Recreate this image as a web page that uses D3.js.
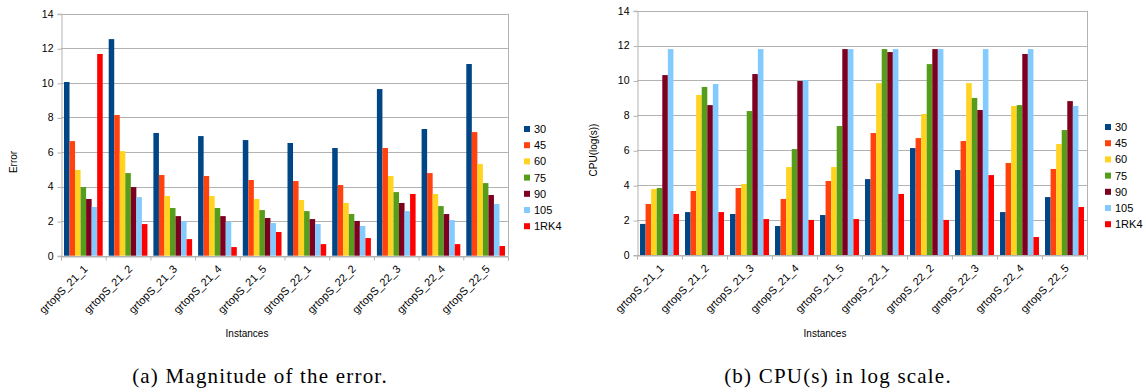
<!DOCTYPE html>
<html>
<head>
<meta charset="utf-8">
<script src="https://cdn.jsdelivr.net/npm/d3@7"></script>
<style>
    body { margin: 0; background: #fff; }
    svg { display: block; }
    .tick text { font-family: 'Liberation Sans', Arial, sans-serif; font-size: 10.5px; fill: #000; }
    .x-labels .tick text { font-size: 11px; }
    .axis-label { font-family: 'Liberation Sans', Arial, sans-serif; font-size: 10px; fill: #000; }
    .legend text { font-family: 'Liberation Sans', Arial, sans-serif; font-size: 11px; fill: #000; }
    .caption { font-family: 'Liberation Serif', 'DejaVu Serif', serif; font-size: 21px; letter-spacing: 1.2px; fill: #000; }
    .grid-line { stroke: #b3b3b3; stroke-width: 1; }
</style>
</head>
<body>
<div id="charts"></div>
<script>
const categories = ['grtopS_21_1', 'grtopS_21_2', 'grtopS_21_3', 'grtopS_21_4', 'grtopS_21_5',
    'grtopS_22_1', 'grtopS_22_2', 'grtopS_22_3', 'grtopS_22_4', 'grtopS_22_5'];

const seriesNames = ['30', '45', '60', '75', '90', '105', '1RK4'];

const seriesColors = ['#004586', '#ff420e', '#ffd320', '#579d1c', '#7e0021', '#83caff', '#ff0000'];

const yTicks = [0, 2, 4, 6, 8, 10, 12, 14];

// error per instance, one value per series
const errorData = [
    [10.05, 6.63, 4.96, 3.97, 3.28, 2.82, 11.67],
    [12.53, 8.14, 6.05, 4.78, 3.97, 3.39, 1.83],
    [7.10, 4.67, 3.45, 2.76, 2.29, 2.01, 0.96],
    [6.92, 4.61, 3.45, 2.76, 2.29, 1.95, 0.50],
    [6.69, 4.38, 3.28, 2.64, 2.18, 1.89, 1.37],
    [6.52, 4.32, 3.22, 2.58, 2.12, 1.83, 0.67],
    [6.23, 4.09, 3.05, 2.41, 2.01, 1.72, 1.02],
    [9.64, 6.23, 4.61, 3.68, 3.05, 2.58, 3.57],
    [7.33, 4.78, 3.57, 2.87, 2.41, 2.06, 0.67],
    [11.09, 7.15, 5.30, 4.20, 3.51, 2.99, 0.56]
];

// CPU(log(s)) per instance, one value per series
const cpuData = [
    [1.78, 2.92, 3.78, 3.84, 10.31, 11.80, 2.35],
    [2.46, 3.67, 9.17, 9.63, 8.59, 9.80, 2.46],
    [2.35, 3.84, 4.07, 8.25, 10.37, 11.80, 2.06],
    [1.66, 3.21, 5.04, 6.07, 9.97, 10.03, 2.01],
    [2.29, 4.24, 5.04, 7.39, 11.80, 11.80, 2.06],
    [4.35, 6.99, 9.85, 11.80, 11.63, 11.80, 3.50],
    [6.13, 6.70, 8.08, 10.94, 11.80, 11.80, 2.01],
    [4.87, 6.53, 9.85, 9.00, 8.31, 11.80, 4.58],
    [2.46, 5.27, 8.54, 8.59, 11.52, 11.80, 1.03],
    [3.32, 4.93, 6.36, 7.16, 8.82, 8.54, 2.75]
];

const width = 1146;
const height = 392;

const svg = d3.select('#charts')
    .append('svg')
    .attr('width', width)
    .attr('height', height);

function drawChart(cfg) {
    const g = svg.append('g');

    //scales
    const xScale = d3.scaleBand()
        .domain(categories)
        .range([cfg.left, cfg.right])
        .paddingInner(0.134)
        .paddingOuter(0.067);

    const xSeries = d3.scaleBand()
        .domain(seriesNames)
        .range([0, xScale.bandwidth()]);

    // group boundaries for tick marks
    const xEdges = d3.scaleLinear()
        .domain([0, categories.length])
        .range([cfg.left, cfg.right]);

    const yScale = d3.scaleLinear()
        .domain([0, 14])
        .range([cfg.bottom, cfg.top]);

    //grid lines
    g.append('g')
        .selectAll('line')
        .data(yTicks)
        .enter()
        .append('line')
        .classed('grid-line', true)
        .attr('x1', cfg.left)
        .attr('x2', cfg.right)
        .attr('y1', d => Math.round(yScale(d)) + 0.5)
        .attr('y2', d => Math.round(yScale(d)) + 0.5);

    // right border
    g.append('line')
        .classed('grid-line', true)
        .attr('x1', Math.round(cfg.right) + 0.5)
        .attr('x2', Math.round(cfg.right) + 0.5)
        .attr('y1', yScale(14))
        .attr('y2', yScale(0));

    //bars
    g.append('g')
        .selectAll('g')
        .data(cfg.data)
        .enter()
        .append('g')
        .attr('transform', (d, i) => 'translate(' + xScale(categories[i]) + ',0)')
        .selectAll('rect')
        .data(d => d)
        .enter()
        .append('rect')
        .attr('x', (d, j) => xSeries(seriesNames[j]))
        .attr('width', xSeries.bandwidth())
        .attr('y', d => yScale(d))
        .attr('height', d => yScale(0) - yScale(d))
        .attr('fill', (d, j) => seriesColors[j]);

    //y-axis
    const yAxis = d3.axisLeft(yScale)
        .tickValues(yTicks)
        .tickSize(4)
        .tickPadding(4);

    const yAx = g.append('g')
        .attr('transform', 'translate(' + (Math.round(cfg.left) + 0.5) + ',0)')
        .call(yAxis);
    yAx.selectAll('path, line').attr('stroke', '#b3b3b3');
    yAx.selectAll('.tick line').attr('transform', 'translate(0,0.5)');

    //x-axis tick marks
    const xAxisEdges = d3.axisBottom(xEdges)
        .ticks(categories.length)
        .tickFormat('')
        .tickSize(4);

    const xAx = g.append('g')
        .attr('transform', 'translate(0,' + (Math.round(cfg.bottom) + 0.5) + ')')
        .call(xAxisEdges);
    xAx.selectAll('path, line').attr('stroke', '#b3b3b3');

    //x-axis labels
    const xAxis = d3.axisBottom(xScale).tickSize(0);
    const xLab = g.append('g')
        .classed('x-labels', true)
        .attr('transform', 'translate(0,' + (cfg.bottom) + ')')
        .call(xAxis);
    xLab.select('.domain').remove();
    xLab.selectAll('.tick text')
        .attr('text-anchor', 'end')
        .attr('dy', null)
        .attr('y', 0)
        .attr('transform', 'translate(5,14) rotate(-45)');

    //axis titles
    g.append('text')
        .classed('axis-label', true)
        .attr('text-anchor', 'middle')
        .attr('transform', 'translate(' + cfg.yLabelX + ',' + cfg.yLabelY + ') rotate(-90)')
        .text(cfg.yLabel);

    g.append('text')
        .classed('axis-label', true)
        .attr('text-anchor', 'middle')
        .attr('x', cfg.xLabelX)
        .attr('y', 337)
        .text('Instances');

    //legend
    const legend = g.append('g')
        .classed('legend', true)
        .selectAll('g')
        .data(seriesNames)
        .enter()
        .append('g')
        .attr('transform', (d, i) => 'translate(' + cfg.legendX + ',' + (cfg.legendY + i * 16.2) + ')');

    legend.append('rect')
        .attr('x', 0)
        .attr('y', -3)
        .attr('width', 6)
        .attr('height', 6)
        .attr('fill', (d, i) => seriesColors[i]);

    legend.append('text')
        .attr('x', 10)
        .attr('y', 4)
        .text(d => d);

    //caption
    g.append('text')
        .classed('caption', true)
        .attr('text-anchor', 'middle')
        .attr('x', cfg.captionX)
        .attr('y', 383)
        .text(cfg.caption);
}

drawChart({
    data: errorData,
    left: 61, right: 508, top: 13.7, bottom: 255.7,
    yLabel: 'Error', yLabelX: 17, yLabelY: 162,
    xLabelX: 247,
    legendX: 524, legendY: 129,
    captionX: 260, caption: '(a) Magnitude of the error.'
});

drawChart({
    data: cpuData,
    left: 637, right: 1087, top: 10.7, bottom: 255,
    yLabel: 'CPU(log(s))', yLabelX: 597, yLabelY: 150,
    xLabelX: 825,
    legendX: 1105, legendY: 127,
    captionX: 838, caption: '(b) CPU(s) in log scale.'
});
</script>
</body>
</html>
